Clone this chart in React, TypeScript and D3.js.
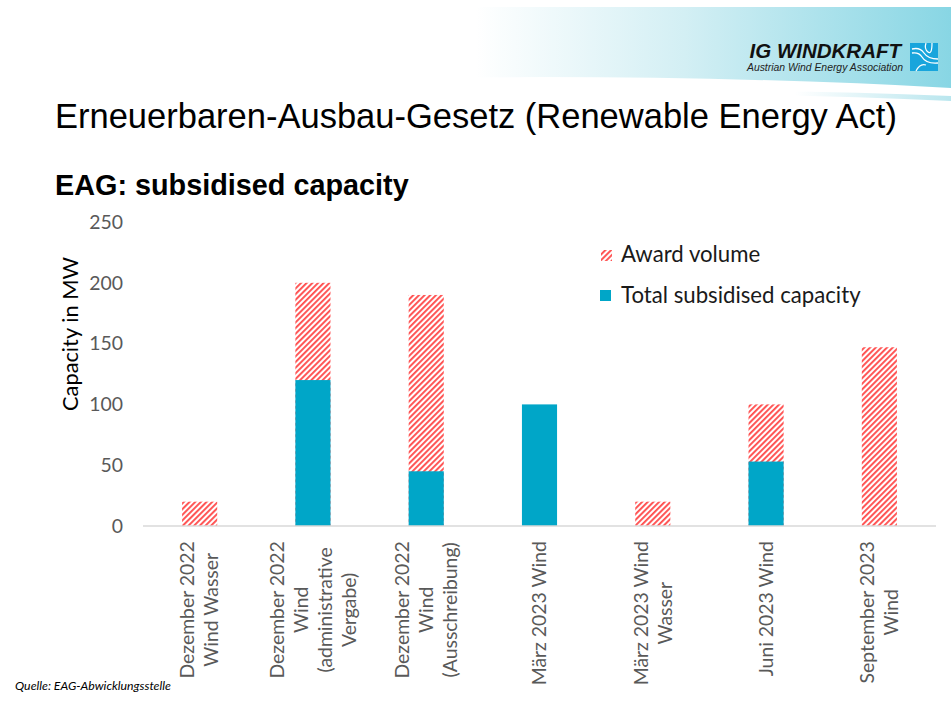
import React, { useMemo } from "react";
import * as d3 from "d3";

const W = 951;
const H = 708;

const categories = [
  "Dezember 2022 Wind Wasser",
  "Dezember 2022 Wind (administrative Vergabe)",
  "Dezember 2022 Wind (Ausschreibung)",
  "März 2023 Wind",
  "März 2023 Wind Wasser",
  "Juni 2023 Wind",
  "September 2023 Wind",
];
const labelLines = [
  ["Dezember 2022", "Wind Wasser"],
  ["Dezember 2022", "Wind", "(administrative", "Vergabe)"],
  ["Dezember 2022", "Wind", "(Ausschreibung)"],
  ["März 2023 Wind"],
  ["März 2023 Wind", "Wasser"],
  ["Juni 2023 Wind"],
  ["September 2023", "Wind"],
];
const awardVolume = [20, 200, 190, 0, 20, 100, 147];
const subsidisedCapacity = [0, 120, 45, 100, 0, 53, 0];
const yTicks = [0, 50, 100, 150, 200, 250];

const TITLE = "Erneuerbaren-Ausbau-Gesetz (Renewable Energy Act)";
const SUBTITLE = "EAG: subsidised capacity";
const Y_TITLE = "Capacity in MW";
const LEGEND = ["Award volume", "Total subsidised capacity"];
const SOURCE = "Quelle: EAG-Abwicklungsstelle";

const BLUE = "#00A6C8";
const RED = "#FF4F4F";
const GRAY = "#595959";
const BODY_FONT = "Lato, 'Open Sans', sans-serif";
const LABEL_SIZE = 19.4;

export default function App() {
  const x = d3
    .scaleBand<string>()
    .domain(categories)
    .range([143, 936])
    .paddingInner(0.69)
    .paddingOuter(0.345);
  const y = d3.scaleLinear().domain([0, 250]).range([526, 222]);

  const measure = useMemo(() => {
    const ctx = document.createElement("canvas").getContext("2d");
    if (ctx) ctx.font = `${LABEL_SIZE}px Lato`;
    return (s: string) => (ctx ? ctx.measureText(s).width : s.length * 10);
  }, []);

  const labelTop = 541;
  const lineGap = 24;

  return (
    <svg
      width={W}
      height={H}
      viewBox={`0 0 ${W} ${H}`}
      style={{ position: "absolute", left: 0, top: 0, background: "#fff" }}
    >
      <defs>
        <linearGradient id="hdr" x1="0" y1="0" x2="1" y2="0">
          <stop offset="0.5" stopColor="#ffffff" />
          <stop offset="0.72" stopColor="#d3eff4" />
          <stop offset="1" stopColor="#88d6e4" />
        </linearGradient>
        <linearGradient id="hdr2" x1="0" y1="0" x2="1" y2="0">
          <stop offset="0.6" stopColor="#ffffff" />
          <stop offset="1" stopColor="#b9e6ee" />
        </linearGradient>
        <pattern
          id="hatch"
          patternUnits="userSpaceOnUse"
          width={4}
          height={4}
          patternTransform="rotate(45)"
        >
          <rect x={0} y={0} width={1.9} height={4} fill={RED} />
        </pattern>
      </defs>

      {/* header */}
      <path d={`M0,7 L${W},7 L${W},88 Q700,74 420,78 L0,80 Z`} fill="url(#hdr)" />
      <path d={`M560,93 Q760,88 ${W},96 L${W},101 Q760,92 560,95 Z`} fill="url(#hdr2)" />

      {/* logo */}
      <text
        x={901}
        y={58}
        textAnchor="end"
        fontFamily="'Liberation Sans', Arial, sans-serif"
        fontWeight="bold"
        fontStyle="italic"
        fontSize={20.5}
        fill="#111"
      >
        IG WINDKRAFT
      </text>
      <text
        x={903}
        y={70.5}
        textAnchor="end"
        fontFamily="'Liberation Sans', Arial, sans-serif"
        fontStyle="italic"
        fontSize={10.4}
        fill="#222"
      >
        Austrian Wind Energy Association
      </text>
      <g transform="translate(910,43)">
        <rect width={28} height={28} fill="#18A5DC" />
        <path d="M2,6 Q10,4 14,10 Q18,16 28,16" fill="none" stroke="#fff" strokeWidth={1.3} />
        <path d="M2,10 Q9,9 12,14 Q16,21 28,20" fill="none" stroke="#fff" strokeWidth={1.3} />
        <path d="M16,0 Q14,6 18,9 Q22,12 22,0" fill="none" stroke="#fff" strokeWidth={1.2} />
        <path d="M6,28 Q10,20 16,22" fill="none" stroke="#fff" strokeWidth={1.2} />
      </g>

      {/* titles */}
      <text
        x={55}
        y={128}
        fontFamily="'Liberation Sans', Arial, sans-serif"
        fontSize={34.5}
        fill="#000"
      >
        {TITLE}
      </text>
      <text
        x={55}
        y={195}
        fontFamily="'Liberation Sans', Arial, sans-serif"
        fontWeight="bold"
        fontSize={28.8}
        fill="#000"
      >
        {SUBTITLE}
      </text>

      {/* y tick labels */}
      {yTicks.map((t) => (
        <text
          key={t}
          x={123}
          y={y(t)}
          dy="0.35em"
          textAnchor="end"
          fontFamily={BODY_FONT}
          fontSize={LABEL_SIZE}
          fill={GRAY}
        >
          {t}
        </text>
      ))}

      {/* y title */}
      <text
        transform={`translate(70,${(y(0) + y(250)) / 2 - 40}) rotate(-90)`}
        textAnchor="middle"
        dy="0.35em"
        fontFamily={BODY_FONT}
        fontSize={21.8}
        fill="#000"
      >
        {Y_TITLE}
      </text>

      {/* bars */}
      {categories.map((c, i) => {
        const bx = x(c) as number;
        const bw = x.bandwidth();
        return (
          <g key={c}>
            {awardVolume[i] > 0 && (
              <rect
                x={bx}
                y={y(awardVolume[i])}
                width={bw}
                height={y(0) - y(awardVolume[i])}
                fill="url(#hatch)"
              />
            )}
            {subsidisedCapacity[i] > 0 && (
              <rect
                x={bx}
                y={y(subsidisedCapacity[i])}
                width={bw}
                height={y(0) - y(subsidisedCapacity[i])}
                fill={BLUE}
              />
            )}
          </g>
        );
      })}

      {/* axis line */}
      <line x1={143} x2={936} y1={y(0)} y2={y(0)} stroke="#d9d9d9" strokeWidth={1.3} />

      {/* x labels */}
      {categories.map((c, i) => {
        const lines = labelLines[i];
        const cx = (x(c) as number) + x.bandwidth() / 2;
        const maxW = d3.max(lines, (l) => measure(l)) as number;
        const cy = labelTop + maxW / 2;
        return (
          <g key={c}>
            {lines.map((l, j) => {
              const lx = cx + (j - (lines.length - 1) / 2) * lineGap;
              return (
                <text
                  key={j}
                  transform={`translate(${lx},${cy}) rotate(-90)`}
                  textAnchor="middle"
                  dy="0.35em"
                  fontFamily={BODY_FONT}
                  fontSize={LABEL_SIZE}
                  fill={GRAY}
                >
                  {l}
                </text>
              );
            })}
          </g>
        );
      })}

      {/* legend */}
      <rect x={601} y={250} width={11} height={11} fill="url(#hatch)" />
      <text x={621} y={262} fontFamily={BODY_FONT} fontSize={22.2} fill="#1a1a1a">
        {LEGEND[0]}
      </text>
      <rect x={600} y={290} width={11} height={11} fill={BLUE} />
      <text x={621} y={303} fontFamily={BODY_FONT} fontSize={22.2} fill="#1a1a1a">
        {LEGEND[1]}
      </text>

      {/* source */}
      <text
        x={15}
        y={690}
        fontFamily={BODY_FONT}
        fontStyle="italic"
        fontSize={12.3}
        fill="#000"
      >
        {SOURCE}
      </text>
    </svg>
  );
}
